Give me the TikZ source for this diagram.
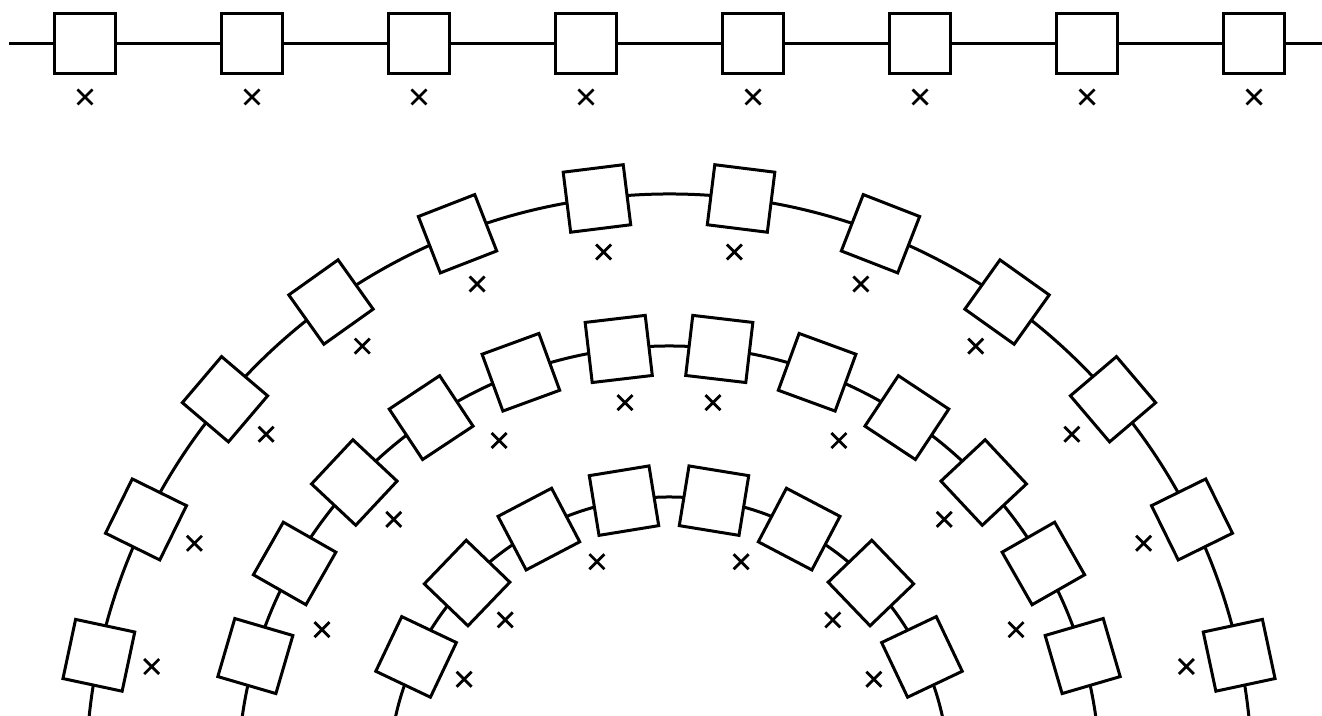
\documentclass[tikz,border=0pt]{standalone}
\usetikzlibrary{shapes.misc}
\tikzset{
  x=1bp,y=1bp,
  box/.style={draw=black,fill=white,line width=3bp,minimum size=60.5bp,inner sep=0pt,outer sep=0pt,shape=rectangle},
  xmark/.style={draw=black,cross out,line width=2.8bp,minimum size=15bp,inner sep=0pt,outer sep=0pt},
  wire/.style={draw=black,line width=3bp}
}
\begin{document}
\begin{tikzpicture}
\useasboundingbox (0,0) rectangle (1322,715);
\clip (0,0) rectangle (1322,715);
\coordinate (O) at (669,-62);
\coordinate (wl) at (9,671.5);
\coordinate (wr) at (1322,671.5);
% arcs
\foreach \r/\n in {583/a,431/b,280/c}{
  \draw[wire] ([shift={(5:\r)}]O) arc[start angle=5,end angle=175,radius=\r];
}
% straight row
\foreach \i [evaluate=\i as \xx using 85+167*\i] in {0,...,7}{
  \node[xmark] (tx\i) at (\xx,618) {};
}
\draw[wire] (wl) -- (wr);
\foreach \i [evaluate=\i as \xx using 85+167*\i] in {0,...,7}{
  \node[box] (t\i) at (\xx,671.5) {};
}
% outer ring
\foreach \k in {0,...,5}{
  \pgfmathsetmacro\a{7.1+14.17*\k}
  \node[box,rotate=\a] (al\k) at ([shift={(90+\a:583)}]O) {};
  \node[box,rotate=-\a] (ar\k) at ([shift={(90-\a:583)}]O) {};
  \node[xmark] (axl\k) at ([shift={(90+\a:529)}]O) {};
  \node[xmark] (axr\k) at ([shift={(90-\a:529)}]O) {};
}
% middle ring
\foreach \k in {0,...,5}{
  \pgfmathsetmacro\a{6.7+13.4*\k}
  \node[box,rotate=\a] (bl\k) at ([shift={(90+\a:431)}]O) {};
  \node[box,rotate=-\a] (br\k) at ([shift={(90-\a:431)}]O) {};
}
\foreach \k in {0,...,3}{
  \pgfmathsetmacro\a{6.7+20.1*\k}
  \node[xmark] (bxl\k) at ([shift={(90+\a:377)}]O) {};
  \node[xmark] (bxr\k) at ([shift={(90-\a:377)}]O) {};
}
% inner ring
\foreach \k in {0,...,3}{
  \pgfmathsetmacro\a{9.25+18.45*\k}
  \node[box,rotate=\a] (cl\k) at ([shift={(90+\a:280)}]O) {};
  \node[box,rotate=-\a] (cr\k) at ([shift={(90-\a:280)}]O) {};
}
\foreach \k/\a in {0/18.5,1/46.2,2/64.5}{
  \node[xmark] (cxl\k) at ([shift={(90+\a:227)}]O) {};
  \node[xmark] (cxr\k) at ([shift={(90-\a:227)}]O) {};
}
\end{tikzpicture}
\end{document}
